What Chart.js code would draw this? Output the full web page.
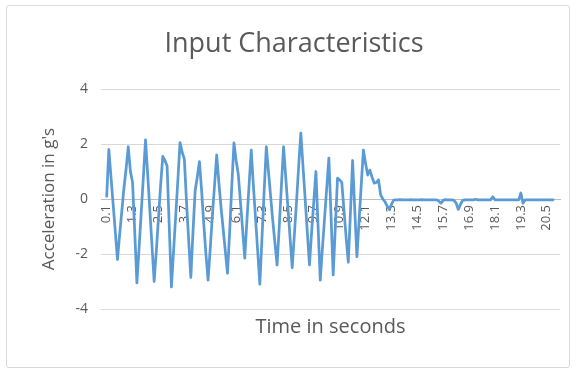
<!DOCTYPE html>
<html><head><meta charset="utf-8">
<script src="https://cdn.jsdelivr.net/npm/chart.js@4"></script>
<style>
html,body{margin:0;padding:0;background:#fff;}
#wrap{position:relative;width:577px;height:374px;overflow:hidden;}
#frame{position:absolute;left:6px;top:5px;width:562px;height:361px;border:1px solid #d9d9d9;border-radius:3px;pointer-events:none;}
canvas{position:absolute;left:0;top:0;}
</style></head><body>
<div id="wrap"><canvas id="c" width="577" height="374"></canvas><div id="frame"></div></div>
<script>
const TITLE = 'Input Characteristics';
const X_TITLE = 'Time in seconds';
const Y_TITLE = "Acceleration in g's";
const TICK_LABELS = ['0.1','1.3','2.5','3.7','4.9','6.1','7.3','8.5','9.7','10.9','12.1','13.3','14.5','15.7','16.9','18.1','19.3','20.5'];
const Y_TICKS = [-4, -2, 0, 2, 4];
// acceleration samples (g), one every 0.1 s starting at 0.1 s
const ACCEL = [
  0.1, 1.8, 0.8, -0.2, -1.2, -2.2, -1.3, -0.45, 0.4, 1.1,
  1.9, 1.0, 0.6, -1.2, -3.05, -1.8, -0.5, 0.8, 2.15, 0.9,
  -0.4, -1.7, -3.0, -1.9, -0.7, 0.5, 1.55, 1.4, 1.2, -1.0,
  -3.2, -1.9, -0.6, 0.7, 2.05, 1.7, 1.45, -0.1, -1.5, -2.85,
  -1.2, 0.3, 0.8, 1.36, 0.3, -0.9, -2.0, -2.95, -1.8, -0.6,
  0.5, 1.6, 0.6, -0.3, -1.1, -1.9, -2.7, -1.2, 0.5, 2.04,
  1.4, 0.9, -0.1, -1.1, -2.15, -0.8, 0.5, 1.78, 0.5, -0.7,
  -1.9, -3.1, -1.4, 0.3, 1.9, 1.0, 0.1, -0.8, -1.6, -2.4,
  -1.0, 0.5, 1.9, 0.8, -0.3, -1.4, -2.5, -1.3, -0.1, 1.2,
  2.4, 1.2, 0.0, -1.2, -2.4, -1.2, -0.1, 1.0, -1.0, -2.95,
  -1.8, -0.7, 0.4, 1.49, -0.6, -2.76, -1.0, 0.76, 0.7, 0.6,
  -0.4, -1.4, -2.3, -0.5, 1.4, -0.4, -2.1, -0.8, 0.5, 1.78,
  1.3, 0.87, 1.05, 0.8, 0.58, 0.6, 0.7, 0.15, 0.0, -0.1,
  -0.25, -0.38, -0.2, -0.04, -0.03, -0.03, -0.02, -0.03, -0.03, -0.03,
  -0.03, -0.02, -0.03, -0.03, -0.03, -0.03, -0.02, -0.03, -0.03, -0.03,
  -0.03, -0.03, -0.03, -0.03, -0.08, -0.15, -0.05, -0.02, -0.03, -0.03,
  -0.03, -0.05, -0.15, -0.38, -0.2, -0.05, -0.03, -0.03, -0.03, -0.03,
  -0.03, -0.01, -0.03, -0.03, -0.03, -0.03, -0.03, -0.03, -0.03, 0.08,
  -0.03, -0.03, -0.03, -0.03, -0.03, -0.03, -0.03, -0.03, -0.03, -0.03,
  -0.03, -0.03, 0.22, -0.15, -0.03, -0.03, -0.03, -0.03, -0.03, -0.03,
  -0.03, -0.03, -0.03, -0.03, -0.03, -0.03, -0.03, -0.03
];
const T_START = 0.1, T_STEP = 0.1;
const TIMES = ACCEL.map((_, i) => +(T_START + i * T_STEP).toFixed(1));
const POINTS = ACCEL.map((v, i) => ({x: TIMES[i], y: v}));
const TICK_VALUES = TICK_LABELS.map(Number);

const FONT = "'Open Sans'";
const GREY = '#595959';

new Chart(document.getElementById('c'), {
  type: 'line',
  data: { datasets: [{ data: POINTS, borderColor: '#5b9bd5', borderWidth: 2.75, pointRadius: 0, tension: 0, fill: false, borderJoinStyle: 'round', borderCapStyle: 'round' }] },
  options: {
    responsive: false, animation: false, devicePixelRatio: 1,
    layout: { padding: { left: 28, right: 17, top: 0, bottom: 20 } },
    plugins: {
      legend: { display: false }, tooltip: { enabled: false },
      title: { display: true, text: TITLE, color: GREY, font: { family: FONT, size: 27, weight: 'normal' }, padding: { top: 28, bottom: 28.6 } }
    },
    scales: {
      x: {
        type: 'linear', position: { y: 0 }, min: -0.164, max: 21.115,
        afterBuildTicks: s => { s.ticks = TICK_VALUES.map(v => ({ value: v })); },
        ticks: { autoSkip: false, minRotation: 90, maxRotation: 90, padding: 6, color: GREY, font: { family: FONT, size: 13 }, callback: (v, i) => TICK_LABELS[i] },
        grid: { display: true, color: 'rgba(0,0,0,0)', drawTicks: false },
        border: { display: true, color: '#bfbfbf', width: 1 }
      },
      x2: {
        type: 'linear', position: 'bottom', min: 0, max: 1,
        ticks: { display: false }, grid: { display: false }, border: { display: false },
        title: { display: true, text: X_TITLE, color: GREY, font: { family: FONT, size: 20 }, padding: { top: 0, bottom: 15 } },
        afterFit: s => { s.height = 45; }
      },
      y: {
        min: -4, max: 4,
        afterBuildTicks: s => { s.ticks = Y_TICKS.map(v => ({ value: v })); },
        ticks: { color: GREY, font: { family: FONT, size: 14 }, padding: 13 },
        grid: { color: '#d9d9d9', drawTicks: false },
        border: { display: false },
        title: { display: true, text: Y_TITLE, color: GREY, font: { family: FONT, size: 17 }, padding: { top: 11, bottom: 0 } },
        afterFit: s => { s.width = 73; }
      }
    }
  }
});
</script>
</body></html>
